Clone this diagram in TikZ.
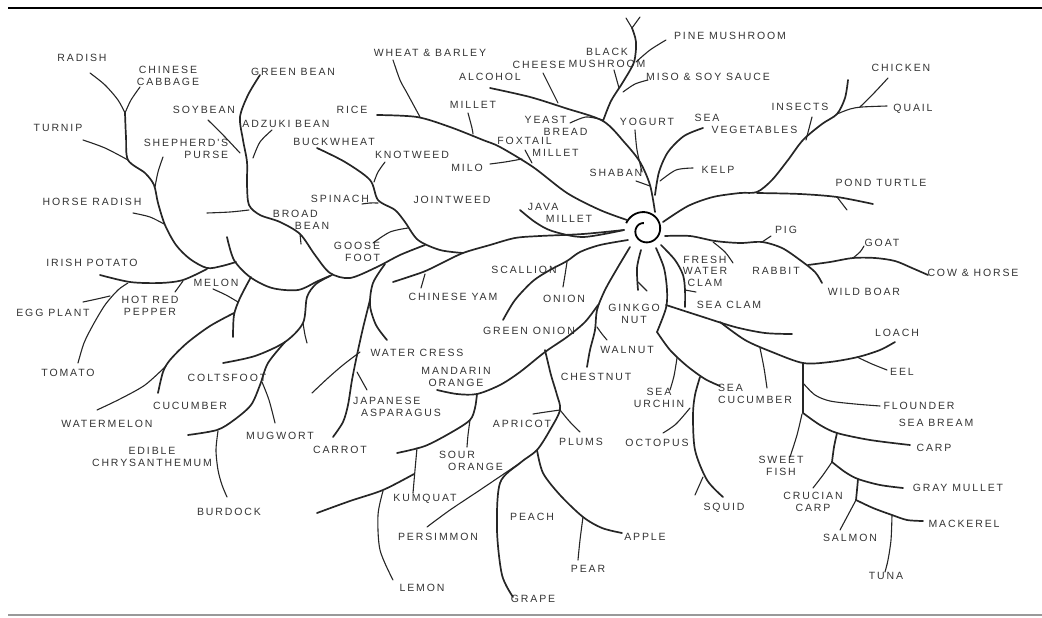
\documentclass[tikz,border=0pt]{standalone}
\usepackage{fontspec}
\newfontfamily\hand[LetterSpace=18]{Liberation Sans}
\begin{document}
\begin{tikzpicture}[x=1pt, y=-1pt,
    trunk/.style={line width=1.7pt, line cap=round, black!85},
    twig/.style={line width=1.1pt, line cap=round, black!85},
    lbl/.style={font={\fontsize{10.5}{11.5}\hand}, text=black!80, inner sep=1pt, align=center}]
    \useasboundingbox (0,0) rectangle (1042,618);
    \draw[line width=2.5pt] (8,8) -- (1042,8);
    \draw[black!40, line width=1.5pt] (8,615) -- (1042,615);

    \coordinate (hub) at (645,230);
    \draw[line width=1.8pt] plot[smooth, domain=0:420, samples=80] ({645+(20-13*\x/420)*cos(\x+200)}, {230+(20-13*\x/420)*sin(\x+200)});

    % labels
    \node[lbl] (radish) at (82,58) {RADISH};
    \node[lbl] (cabbage) at (168,76) {CHINESE\\CABBAGE};
    \node[lbl] (greenbean) at (293,72) {GREEN BEAN};
    \node[lbl] (soybean) at (204,110) {SOYBEAN};
    \node[lbl] (adzuki) at (286,124) {ADZUKI BEAN};
    \node[lbl] (turnip) at (58,128) {TURNIP};
    \node[lbl, align=right] (purse) at (186,149) {SHEPHERD'S\\PURSE};
    \node[lbl] (horseradish) at (92,202) {HORSE RADISH};
    \node[lbl] (wheat) at (430,53) {WHEAT \& BARLEY};
    \node[lbl] (alcohol) at (490,77) {ALCOHOL};
    \node[lbl] (millet) at (473,105) {MILLET};
    \node[lbl] (rice) at (352,110) {RICE};
    \node[lbl] (buckwheat) at (334,142) {BUCKWHEAT};
    \node[lbl] (knotweed) at (412,155) {KNOTWEED};
    \node[lbl] (milo) at (467,168) {MILO};
    \node[lbl] (spinach) at (340,199) {SPINACH};
    \node[lbl] (jointweed) at (452,200) {JOINTWEED};
    \node[lbl] (cheese) at (539,65) {CHEESE};
    \node[lbl] (blackmush) at (607,58) {BLACK\\MUSHROOM};
    \node[lbl] (pinemush) at (730,36) {PINE MUSHROOM};
    \node[lbl] (miso) at (708,77) {MISO \& SOY SAUCE};
    \node[lbl, align=left] (bread) at (556,126) {YEAST\\\hspace*{19pt}BREAD};
    \node[lbl] (yogurt) at (647,122) {YOGURT};
    \node[lbl, align=left] (seaveg) at (746,124) {SEA\\\hspace*{17pt}VEGETABLES};
    \node[lbl, align=left] (foxtail) at (538,147) {FOXTAIL\\\hspace*{35pt}MILLET};
    \node[lbl] (shaban) at (616,173) {SHABAN};
    \node[lbl] (kelp) at (718,170) {KELP};
    \node[lbl, align=left] (java) at (560,213) {JAVA\\\hspace*{18pt}MILLET};
    \node[lbl] (chicken) at (901,68) {CHICKEN};
    \node[lbl] (insects) at (800,107) {INSECTS};
    \node[lbl] (quail) at (913,109) {QUAIL};
    \node[lbl] (turtle) at (881,183) {POND TURTLE};
    \node[lbl] (irish) at (92,263) {IRISH POTATO};
    \node[lbl] (melon) at (216,283) {MELON};
    \node[lbl] (pepper) at (150,306) {HOT RED\\PEPPER};
    \node[lbl] (eggplant) at (53,313) {EGG PLANT};
    \node[lbl] (tomato) at (68,373) {TOMATO};
    \node[lbl] (coltsfoot) at (227,378) {COLTSFOOT};
    \node[lbl] (cucumber) at (190,406) {CUCUMBER};
    \node[lbl, align=left] (broadbean) at (301,220) {BROAD\\\hspace*{22pt}BEAN};
    \node[lbl, align=right] (goosefoot) at (357,252) {GOOSE\\FOOT};
    \node[lbl] (yam) at (453,297) {CHINESE YAM};
    \node[lbl] (scallion) at (524,270) {SCALLION};
    \node[lbl] (greenonion) at (529,331) {GREEN ONION};
    \node[lbl] (watercress) at (417,353) {WATER CRESS};
    \node[lbl] (mandarin) at (456,377) {MANDARIN\\ORANGE};
    \node[lbl, align=left] (asparagus) at (397,407) {JAPANESE\\\hspace*{8pt}ASPARAGUS};
    \node[lbl] (onion) at (564,299) {ONION};
    \node[lbl] (freshclam) at (705,271) {FRESH\\WATER\\CLAM};
    \node[lbl] (rabbit) at (776,271) {RABBIT};
    \node[lbl] (seaclam) at (729,305) {SEA CLAM};
    \node[lbl] (ginkgo) at (634,314) {GINKGO\\NUT};
    \node[lbl] (walnut) at (627,350) {WALNUT};
    \node[lbl] (chestnut) at (596,377) {CHESTNUT};
    \node[lbl] (urchin) at (659,398) {SEA\\URCHIN};
    \node[lbl, align=left] (seacucumber) at (755,394) {SEA\\CUCUMBER};
    \node[lbl] (pig) at (786,230) {PIG};
    \node[lbl] (goat) at (882,243) {GOAT};
    \node[lbl] (cowhorse) at (973,273) {COW \& HORSE};
    \node[lbl] (wildboar) at (864,292) {WILD BOAR};
    \node[lbl] (loach) at (897,333) {LOACH};
    \node[lbl] (eel) at (902,372) {EEL};
    \node[lbl] (flounder) at (919,406) {FLOUNDER};
    \node[lbl] (seabream) at (936,423) {SEA BREAM};
    \node[lbl] (carp) at (934,448) {CARP};
    \node[lbl] (sweetfish) at (781,466) {SWEET\\FISH};
    \node[lbl] (graymullet) at (958,488) {GRAY MULLET};
    \node[lbl] (crucian) at (813,502) {CRUCIAN\\CARP};
    \node[lbl] (mackerel) at (964,524) {MACKEREL};
    \node[lbl] (salmon) at (850,538) {SALMON};
    \node[lbl] (tuna) at (886,576) {TUNA};
    \node[lbl] (watermelon) at (107,424) {WATERMELON};
    \node[lbl] (chrysanthemum) at (152,457) {EDIBLE\\CHRYSANTHEMUM};
    \node[lbl] (burdock) at (229,512) {BURDOCK};
    \node[lbl] (mugwort) at (280,436) {MUGWORT};
    \node[lbl] (carrot) at (340,450) {CARROT};
    \node[lbl, align=left] (sourorange) at (471,461) {SOUR\\\hspace*{9pt}ORANGE};
    \node[lbl] (kumquat) at (425,499) {KUMQUAT};
    \node[lbl] (persimmon) at (438,537) {PERSIMMON};
    \node[lbl] (lemon) at (422,588) {LEMON};
    \node[lbl] (apricot) at (522,424) {APRICOT};
    \node[lbl] (plums) at (581,442) {PLUMS};
    \node[lbl] (octopus) at (657,443) {OCTOPUS};
    \node[lbl] (squid) at (724,508) {SQUID};
    \node[lbl] (peach) at (532,517) {PEACH};
    \node[lbl] (apple) at (645,537) {APPLE};
    \node[lbl] (pear) at (588,569) {PEAR};
    \node[lbl] (grape) at (533,599) {GRAPE};

    % ferments and mushrooms
    \draw[trunk] plot[smooth] coordinates {(490,88) (530,97) (565,108) (603,121) (625,143) (640,162) (650,185) (655,212)};
    \draw[twig] plot[smooth] coordinates {(543,73) (550,87) (558,103)};
    \draw[twig] plot[smooth] coordinates {(570,123) (586,117) (603,120)};
    \draw[trunk] plot[smooth] coordinates {(603,121) (611,101) (623,82) (634,62) (636,42) (632,28)};
    \draw[twig] (632,28) -- (626,18);
    \draw[twig] (632,28) -- (640,17);
    \draw[twig] (614,70) -- (619,88);
    \draw[twig] plot[smooth] coordinates {(666,40) (650,50) (636,62)};
    \draw[twig] plot[smooth] coordinates {(648,80) (635,84) (623,92)};
    \draw[twig] (636,181) -- (650,186);
    \draw[twig] plot[smooth] coordinates {(635,130) (637,150) (642,172)};
    \draw[trunk] plot[smooth] coordinates {(703,128) (684,136) (668,152) (659,172) (655,195)};
    \draw[twig] plot[smooth] coordinates {(693,168) (676,170) (660,181)};

    % birds and turtle
    \draw[trunk] plot[smooth] coordinates {(663,222) (688,206) (713,197) (740,193) (757,192) (772,180) (788,160) (803,140) (822,124) (837,114) (845,98) (848,80)};
    \draw[trunk] plot[smooth] coordinates {(757,193) (800,194) (837,197) (873,204)};
    \draw[twig] (837,197) -- (847,210);
    \draw[twig] plot[smooth] coordinates {(837,114) (850,109) (862,107) (887,106)};
    \draw[twig] plot[smooth] coordinates {(860,107) (875,92) (888,78)};
    \draw[twig] (812,117) -- (806,140);

    % animals
    \draw[trunk] plot[smooth] coordinates {(665,236) (690,236) (715,241) (740,243) (762,242) (782,248) (800,260) (815,272) (822,283)};
    \draw[twig] (762,242) -- (771,236);
    \draw[trunk] plot[smooth] coordinates {(808,265) (830,262) (853,258) (875,258) (895,261) (912,268) (928,275)};
    \draw[twig] plot[smooth] coordinates {(853,258) (860,252) (864,246)};
    \draw[twig] plot[smooth] coordinates {(713,242) (725,252) (733,263)};

    % clams
    \draw[trunk] plot[smooth] coordinates {(661,245) (675,260) (683,275) (685,290) (685,307)};
    \draw[twig] (685,290) -- (696,292);

    % fish
    \draw[trunk] plot[smooth] coordinates {(656,248) (664,268) (667,290) (666,308) (657,332)};
    \draw[trunk] plot[smooth] coordinates {(666,305) (700,316) (735,327) (765,333) (792,334)};
    \draw[trunk] plot[smooth] coordinates {(720,322) (745,340) (772,352) (803,363) (830,362) (858,357) (880,350) (895,342)};
    \draw[twig] plot[smooth] coordinates {(857,357) (872,364) (887,370)};
    \draw[twig] plot[smooth] coordinates {(760,348) (764,368) (767,388)};
    \draw[trunk] plot[smooth] coordinates {(803,363) (803,385) (803,413)};
    \draw[twig] plot[smooth] coordinates {(803,383) (815,395) (830,401) (855,404) (880,406)};
    \draw[twig] plot[smooth] coordinates {(802,414) (797,435) (790,457)};
    \draw[trunk] plot[smooth] coordinates {(803,413) (820,425) (837,433) (870,440) (910,445)};
    \draw[trunk] plot[smooth] coordinates {(837,433) (834,447) (832,462)};
    \draw[twig] plot[smooth] coordinates {(832,462) (823,475) (813,488)};
    \draw[trunk] plot[smooth] coordinates {(832,462) (845,472) (858,479) (880,485) (903,488)};
    \draw[trunk] plot[smooth] coordinates {(858,479) (857,490) (856,500)};
    \draw[twig] plot[smooth] coordinates {(856,500) (848,515) (840,530)};
    \draw[trunk] plot[smooth] coordinates {(856,500) (873,508) (892,515) (907,520) (923,521)};
    \draw[twig] plot[smooth] coordinates {(892,515) (891,540) (888,560) (885,572)};

    % sea creatures
    \draw[trunk] plot[smooth] coordinates {(657,332) (670,350) (687,366) (705,379) (720,386)};
    \draw[twig] plot[smooth] coordinates {(677,358) (674,376) (670,390)};
    \draw[trunk] plot[smooth] coordinates {(700,377) (695,395) (693,415) (695,450) (707,480) (723,497)};
    \draw[twig] plot[smooth] coordinates {(690,408) (676,424) (663,433)};
    \draw[twig] (703,477) -- (695,495);

    % nuts
    \draw[trunk] plot[smooth] coordinates {(641,250) (637,268) (638,290)};
    \draw[twig] (638,282) -- (647,291);
    \draw[trunk] plot[smooth] coordinates {(630,247) (618,267) (605,290) (597,310) (595,330) (590,350) (587,367)};
    \draw[twig] plot[smooth] coordinates {(597,327) (602,334) (607,340)};

    % citrus
    \draw[trunk] plot[smooth] coordinates {(598,305) (585,322) (567,337) (545,352) (520,372) (500,385) (477,394) (457,394) (437,390)};
    \draw[trunk] plot[smooth] coordinates {(477,394) (475,408) (470,420) (452,432) (425,446) (397,453)};
    \draw[twig] plot[smooth] coordinates {(470,420) (468,435) (467,447)};
    \draw[twig] plot[smooth] coordinates {(417,448) (415,470) (413,493)};
    \draw[trunk] plot[smooth] coordinates {(317,513) (350,501) (383,490) (414,474)};
    \draw[twig] plot[smooth] coordinates {(383,491) (378,515) (380,550) (393,580)};

    % fruit
    \draw[trunk] plot[smooth] coordinates {(545,350) (551,375) (557,395) (560,410) (550,430) (537,450) (520,463) (500,483) (497,530) (502,575) (513,597)};
    \draw[twig] plot[smooth] coordinates {(560,410) (546,412) (533,414)};
    \draw[twig] plot[smooth] coordinates {(560,410) (570,422) (580,432)};
    \draw[trunk] plot[smooth] coordinates {(537,450) (543,473) (560,495) (583,517) (602,528) (622,533)};
    \draw[twig] plot[smooth] coordinates {(583,517) (580,540) (578,560)};
    \draw[twig] plot[smooth] coordinates {(520,463) (480,490) (450,510) (427,527)};

    % grains
    \draw[trunk] plot[smooth] coordinates {(377,115) (417,117) (450,127) (483,140) (500,147) (533,167) (567,193) (600,210) (627,220)};
    \draw[twig] plot[smooth] coordinates {(393,60) (400,80) (407,93) (420,117)};
    \draw[twig] plot[smooth] coordinates {(468,113) (472,128) (473,134)};
    \draw[twig] plot[smooth] coordinates {(525,150) (532,163)};
    \draw[twig] plot[smooth] coordinates {(490,164) (505,162) (522,159)};
    \draw[trunk] plot[smooth] coordinates {(520,210) (535,222) (552,231) (583,237) (624,230)};
    \draw[trunk] plot[smooth] coordinates {(624,230) (583,234) (540,236) (515,238) (490,245) (463,253) (440,264) (423,272) (393,282)};
    \draw[twig] (425,274) -- (421,288);
    \draw[trunk] plot[smooth] coordinates {(317,148) (345,162) (370,180) (378,200) (395,210) (405,222) (418,240) (440,250) (463,253)};
    \draw[twig] plot[smooth] coordinates {(385,162) (378,172) (374,182)};
    \draw[twig] plot[smooth] coordinates {(362,204) (370,203) (378,203)};
    \draw[twig] plot[smooth] coordinates {(408,228) (390,232) (373,243)};

    % beans
    \draw[trunk] plot[smooth] coordinates {(260,75) (248,95) (240,117) (243,140) (247,162) (247,185) (249,205) (260,215) (280,222) (300,234) (315,255) (330,273) (350,278) (377,267) (400,255) (425,245)};
    \draw[twig] plot[smooth] coordinates {(208,120) (225,137) (240,153)};
    \draw[twig] plot[smooth] coordinates {(272,130) (260,142) (253,158)};
    \draw[twig] (300,234) -- (301,244);
    \draw[twig] plot[smooth] coordinates {(207,213) (230,212) (249,210)};
    \draw[trunk] plot[smooth] coordinates {(227,237) (234,260) (250,277) (272,288) (298,290) (318,281) (332,275)};

    % melons and nightshades
    \draw[trunk] plot[smooth] coordinates {(251,277) (240,298) (234,315) (233,337)};
    \draw[twig] plot[smooth] coordinates {(213,289) (226,295) (238,302)};
    \draw[trunk] plot[smooth] coordinates {(234,313) (210,326) (187,343) (170,360) (163,372) (158,393)};
    \draw[twig] plot[smooth] coordinates {(97,410) (120,399) (145,385) (166,366)};
    \draw[trunk] plot[smooth] coordinates {(100,275) (130,282) (160,283) (183,280) (207,269)};
    \draw[twig] plot[smooth] coordinates {(78,363) (84,343) (93,325) (105,305) (118,290) (128,283)};
    \draw[twig] plot[smooth] coordinates {(83,302) (97,299) (110,296)};
    \draw[twig] (175,292) -- (183,281);

    % roots
    \draw[twig] plot[smooth] coordinates {(90,73) (105,85) (118,100) (125,113)};
    \draw[twig] plot[smooth] coordinates {(140,87) (131,100) (125,113)};
    \draw[trunk] plot[smooth] coordinates {(125,113) (126,137) (128,160) (145,173) (154,185) (158,203) (165,225) (176,245) (190,259) (207,268) (222,266) (236,262)};
    \draw[twig] plot[smooth] coordinates {(83,140) (105,148) (128,160)};
    \draw[twig] plot[smooth] coordinates {(163,157) (158,172) (155,187)};
    \draw[twig] plot[smooth] coordinates {(133,213) (150,217) (164,224)};

    % wild greens
    \draw[trunk] plot[smooth] coordinates {(330,276) (316,284) (307,297) (303,323) (285,342) (255,356) (223,363)};
    \draw[twig] plot[smooth] coordinates {(303,323) (305,335) (307,343)};
    \draw[trunk] plot[smooth] coordinates {(285,342) (268,363) (260,385) (251,405) (234,420) (217,430) (188,435)};
    \draw[twig] plot[smooth] coordinates {(262,382) (269,400) (275,423)};
    \draw[twig] plot[smooth] coordinates {(218,431) (216,450) (218,470) (222,485) (227,497)};
    \draw[trunk] plot[smooth] coordinates {(385,264) (373,283) (370,305) (376,325) (387,340)};
    \draw[trunk] plot[smooth] coordinates {(370,300) (363,328) (357,355) (352,380) (348,405) (343,422) (333,437)};
    \draw[twig] plot[smooth] coordinates {(357,372) (362,381) (367,390)};
    \draw[twig] plot[smooth] coordinates {(360,352) (343,365) (328,378) (312,393)};

    % onions
    \draw[trunk] plot[smooth] coordinates {(628,240) (600,245) (580,252) (567,261) (550,270) (533,281) (515,300) (503,320)};
    \draw[twig] plot[smooth] coordinates {(567,262) (565,275) (563,287)};
\end{tikzpicture}
\end{document}
